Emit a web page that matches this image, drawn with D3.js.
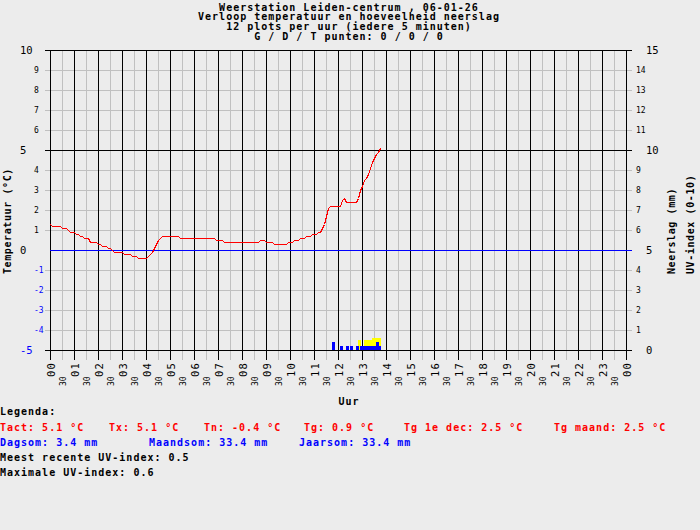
<!DOCTYPE html>
<html><head><meta charset="utf-8">
<script src="https://cdn.jsdelivr.net/npm/d3@7/dist/d3.min.js"></script>
<style>
body{margin:0;background:#ececec;}
svg{display:block;}
text{font-family:"DejaVu Sans Mono","Liberation Mono",monospace;}
.b{font-weight:bold;letter-spacing:1px;font-size:10px;}
</style>
</head><body>
<svg id="chart" width="700" height="530"></svg>
<script>
// ---------- data ----------
const titleLines = [
  "Weerstation Leiden-centrum , 06-01-26",
  "Verloop temperatuur en hoeveelheid neerslag",
  "12 plots per uur (iedere 5 minuten)",
  "G / D / T punten: 0 / 0 / 0"
];
const hourLabels = ["00","01","02","03","04","05","06","07","08","09","10","11","12",
                    "13","14","15","16","17","18","19","20","21","22","23","00"];
const halfHourLabel = "30";
const leftMajorTicks = [10, 5, 0, -5];
const leftMinorTicks = [9, 8, 7, 6, 4, 3, 2, 1, -1, -2, -3, -4];
const rightMajorTicks = [15, 10, 5, 0];
const rightMinorTicks = [14, 13, 12, 11, 9, 8, 7, 6, 4, 3, 2, 1];

// temperature every 5 minutes from 00:00 (°C)
const temperature5min = [
  1.3, 1.2,1.2,1.2,1.2,1.2, 1.1,1.1,1.1, 1.0, 0.9,0.9,0.9, 0.8,0.8, 0.7,0.7, 0.6,0.6,0.6,
  0.4,0.4,0.4,0.4, 0.3,0.3, 0.2,0.2,0.2, 0.1,0.1, 0.0, -0.1,-0.1,-0.1,-0.1,-0.1,
  -0.2,-0.2,-0.2,-0.2, -0.3,-0.3,-0.3, -0.4,-0.4,-0.4,-0.4,-0.4,
  -0.3, -0.2, -0.1, 0.1, 0.3, 0.5, 0.6, 0.7,0.7,0.7,0.7,0.7,0.7,0.7,0.7,0.7,
  0.6,0.6,0.6,0.6,0.6,0.6,0.6,0.6,0.6,0.6,0.6,0.6,0.6,0.6,0.6,0.6,0.6,0.6,
  0.5,0.5,0.5,0.5,
  0.4,0.4,0.4,0.4,0.4,0.4,0.4,0.4,0.4,0.4,0.4,0.4,0.4,0.4,0.4,0.4,0.4,0.4,
  0.5,0.5,0.5, 0.4,0.4,0.4,0.4, 0.3,0.3,0.3,0.3,0.3,0.3,0.3, 0.4,0.4,0.4,
  0.5,0.5,0.5, 0.6,0.6,0.6, 0.7,0.7,0.7, 0.8,0.8,0.8, 0.9,0.9,
  1.1, 1.3, 1.7, 2.1, 2.2,2.2,2.2,2.2,2.2,2.2, 2.5, 2.6, 2.4,2.4,2.4,2.4,2.4,2.4,
  2.6, 3.0, 3.2, 3.5, 3.6, 3.8, 4.1, 4.4, 4.6, 4.8, 4.9, 5.1
];
// rain per 5 minutes (mm), minute of day
const rainMinutes = [705, 725, 740, 750, 765, 775, 780, 785, 790, 795, 800, 805, 810, 815, 820];
const rainValues  = [0.4, 0.2, 0.2, 0.2, 0.2, 0.2, 0.2, 0.2, 0.2, 0.2, 0.2, 0.2, 0.2, 0.4, 0.2];
// UV index, minute of day
const uvMinutes = [770, 775, 780, 785, 790, 795, 800, 805, 810, 815, 820];
const uvValues  = [0.5, 0.2, 0.2, 0.5, 0.5, 0.5, 0.5, 0.6, 0.6, 0.6, 0.6];

const legendTitle = "Legenda:";
const legendTemp = [
  {t:"Tact: 5.1 °C", x:0}, {t:"Tx: 5.1 °C", x:109}, {t:"Tn: -0.4 °C", x:204},
  {t:"Tg: 0.9 °C", x:304}, {t:"Tg 1e dec: 2.5 °C", x:404}, {t:"Tg maand: 2.5 °C", x:554}
];
const legendRain = [
  {t:"Dagsom: 3.4 mm", x:0}, {t:"Maandsom: 33.4 mm", x:149}, {t:"Jaarsom: 33.4 mm", x:299}
];
const legendUV = ["Meest recente UV-index: 0.5", "Maximale UV-index: 0.6"];

// ---------- drawing ----------
const svg = d3.select("#chart");
svg.append("rect").attr("width",700).attr("height",530).attr("fill","#ececec");

const x = d3.scaleLinear().domain([0, 1440]).range([50, 626]);
const y = d3.scaleLinear().domain([-5, 10]).range([350, 50]);
const yR = d3.scaleLinear().domain([0, 15]).range([350, 50]);
const GREY = "#c0c0c0";

const g = svg.append("g").attr("shape-rendering","crispEdges");

// vertical grid (half hours grey, hours black)
const halfHours = d3.range(0, 24).map(h => h*60 + 30);
const hours = d3.range(0, 25).map(h => h*60);
g.selectAll(".vh").data(halfHours).join("line")
  .attr("x1", d => x(d)+0.5).attr("x2", d => x(d)+0.5)
  .attr("y1", y(10)).attr("y2", y(-5)+10).attr("stroke", GREY);

// horizontal grid
const allT = d3.range(-5, 11);
g.selectAll(".hg").data(allT.filter(v => v % 5 !== 0)).join("line")
  .attr("x1", 45).attr("x2", 632)
  .attr("y1", d => y(d)+0.5).attr("y2", d => y(d)+0.5).attr("stroke", GREY);

g.selectAll(".vb").data(hours).join("line")
  .attr("x1", d => x(d)+0.5).attr("x2", d => x(d)+0.5)
  .attr("y1", y(10)).attr("y2", y(-5)+10).attr("stroke", "#000");

g.selectAll(".hb").data([10, 5, -5]).join("line")
  .attr("x1", 45).attr("x2", 632)
  .attr("y1", d => y(d)+0.5).attr("y2", d => y(d)+0.5).attr("stroke", "#000");
g.append("line").attr("x1", 50).attr("x2", 632)
  .attr("y1", y(0)+0.5).attr("y2", y(0)+0.5).attr("stroke", "#0000ff");

// UV bars (yellow) behind rain (blue)
g.selectAll(".uv").data(uvMinutes.map((m,i)=>({m, v:uvValues[i]}))).join("rect")
  .attr("x", d => x(d.m)).attr("width", 3)
  .attr("y", d => yR(d.v)).attr("height", d => yR(0) - yR(d.v))
  .attr("fill", "#ffff00");
g.selectAll(".rain").data(rainMinutes.map((m,i)=>({m, v:rainValues[i]}))).join("rect")
  .attr("x", d => x(d.m)).attr("width", 3)
  .attr("y", d => yR(d.v)).attr("height", d => yR(0) - yR(d.v))
  .attr("fill", "#0000ff");

// temperature line
const line = d3.line().x((d,i) => x(i*5)+0.5).y(d => y(d)+0.5);
g.append("path").datum(temperature5min).attr("d", line)
  .attr("fill","none").attr("stroke","#ff0000").attr("stroke-width",1);

// left axis labels
svg.selectAll(".lmaj").data(leftMajorTicks).join("text")
  .attr("x", 20).attr("y", d => y(d)+3.8).attr("font-size", 10.5)
  .attr("fill", d => d < 0 ? "#0000ff" : "#000").text(d => d);
svg.selectAll(".lmin").data(leftMinorTicks).join("text")
  .attr("x", 34).attr("y", d => y(d)+3).attr("font-size", 8)
  .attr("fill", d => d < 0 ? "#0000ff" : "#000").text(d => d);
// right axis labels
svg.selectAll(".rmaj").data(rightMajorTicks).join("text")
  .attr("x", 646).attr("y", d => yR(d)+3.8).attr("font-size", 10.5)
  .attr("fill", "#000").text(d => d);
svg.selectAll(".rmin").data(rightMinorTicks).join("text")
  .attr("x", 636).attr("y", d => yR(d)+3).attr("font-size", 8)
  .attr("fill", "#000").text(d => d);

// bottom labels (rotated)
svg.selectAll(".hl").data(hours).join("text")
  .attr("transform", d => `translate(${x(d)+1.5},377) rotate(-90)`)
  .attr("dy", "0.36em").attr("font-size", 10.5).style("letter-spacing","1.2px")
  .text((d,i) => hourLabels[i]);
svg.selectAll(".hhl").data(halfHours).join("text")
  .attr("transform", d => `translate(${x(d)+1.5},386) rotate(-90)`)
  .attr("dy", "0.36em").attr("font-size", 8).text(halfHourLabel);

// titles
svg.selectAll(".title").data(titleLines).join("text")
  .attr("class","b").attr("x", 349).attr("y", (d,i) => 10.5 + i*9.9)
  .attr("text-anchor","middle").text(d => d);

svg.append("text").attr("class","b").attr("x", 349).attr("y", 405)
  .attr("text-anchor","middle").text("Uur");

const axTitle = (cx, label) => svg.append("text").attr("class","b")
  .style("letter-spacing","0.6px")
  .attr("transform", `translate(${cx},274) rotate(-90)`).attr("dy","0.36em").text(label);
axTitle(7.5, "Temperatuur (°C)");
axTitle(671.5, "Neerslag (mm)");
axTitle(690, "UV-index (0-10)");

// legend
svg.append("text").attr("class","b").attr("x",0).attr("y",415).text(legendTitle);
svg.selectAll(".lt").data(legendTemp).join("text").attr("class","b")
  .attr("x", d => d.x).attr("y", 431).attr("fill","#ff0000").text(d => d.t);
svg.selectAll(".lr").data(legendRain).join("text").attr("class","b")
  .attr("x", d => d.x).attr("y", 446).attr("fill","#0000ff").text(d => d.t);
svg.selectAll(".lu").data(legendUV).join("text").attr("class","b")
  .attr("x", 0).attr("y", (d,i) => 461 + i*15).attr("fill","#000").text(d => d);
</script>
</body></html>
